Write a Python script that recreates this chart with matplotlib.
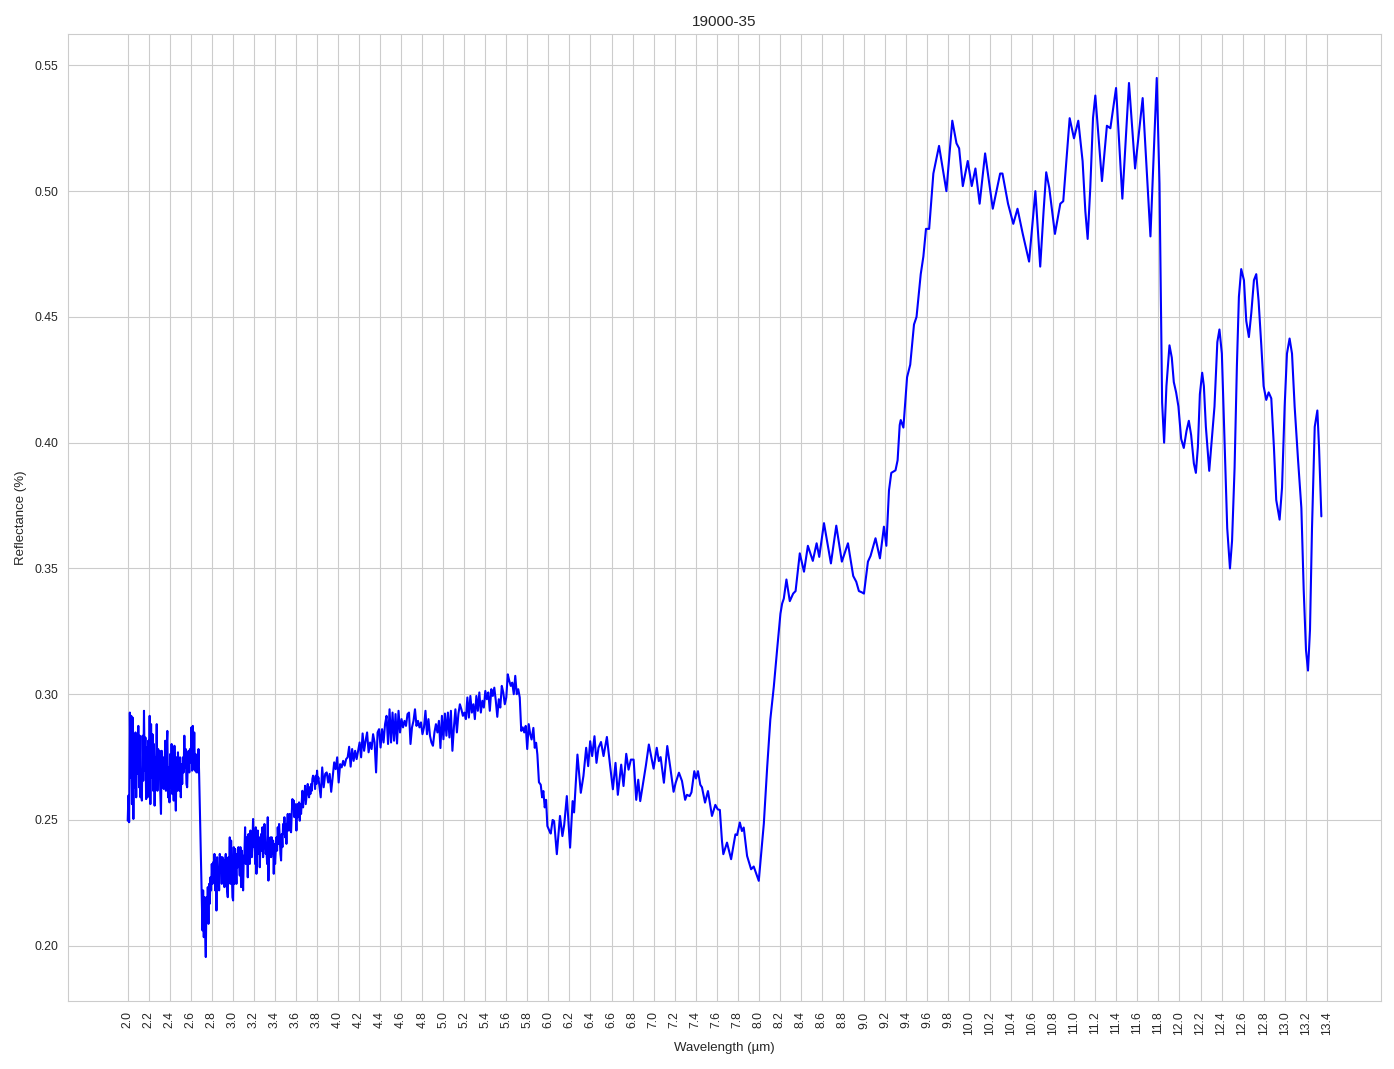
import numpy as np
import matplotlib
matplotlib.use("Agg")
import matplotlib.pyplot as plt
import seaborn as sns

# noisy band, 2.00 - 2.67 um (evenly sampled)
band1_range = (2.0, 2.673)
band1_refl = [0.2497, 0.2597, 0.2491, 0.2927, 0.2669, 0.2914, 0.2563, 0.2907, 0.2504, 0.2841,
              0.2630, 0.2848, 0.2590, 0.2841, 0.2683, 0.2874, 0.2630, 0.2835, 0.2590, 0.2696,
              0.2577, 0.2835, 0.2656, 0.2934, 0.2696, 0.2828, 0.2583, 0.2788, 0.2590, 0.2815,
              0.2630, 0.2914, 0.2563, 0.2881, 0.2669, 0.2841, 0.2616, 0.2802, 0.2557, 0.2749,
              0.2709, 0.2881, 0.2616, 0.2782, 0.2669, 0.2775, 0.2610, 0.2524, 0.2775, 0.2630,
              0.2749, 0.2623, 0.2696, 0.2815, 0.2616, 0.2782, 0.2854, 0.2590, 0.2709, 0.2570,
              0.2762, 0.2630, 0.2802, 0.2603, 0.2702, 0.2577, 0.2795, 0.2643, 0.2537, 0.2749,
              0.2616, 0.2769, 0.2669, 0.2616, 0.2749, 0.2590, 0.2722, 0.2643, 0.2749, 0.2689,
              0.2835, 0.2709, 0.2782, 0.2643, 0.2630, 0.2742, 0.2775, 0.2689, 0.2782, 0.2729,
              0.2868, 0.2696, 0.2874, 0.2702, 0.2848, 0.2696, 0.2762, 0.2689, 0.2696, 0.2689,
              0.2782]

# drop and noisy recovery, 2.68 - 3.81 um
band2_range = (2.679, 3.813)
band2_refl = [0.2683, 0.2557, 0.2418, 0.2299, 0.2167, 0.2061, 0.2220, 0.2034, 0.2193, 0.2061,
              0.1955, 0.2193, 0.2114, 0.2233, 0.2087, 0.2246, 0.2167, 0.2272, 0.2220, 0.2325,
              0.2246, 0.2332, 0.2272, 0.2365, 0.2220, 0.2339, 0.2140, 0.2352, 0.2272, 0.2312,
              0.2220, 0.2365, 0.2299, 0.2352, 0.2246, 0.2352, 0.2272, 0.2339, 0.2233, 0.2332,
              0.2365, 0.2272, 0.2220, 0.2193, 0.2352, 0.2299, 0.2431, 0.2246, 0.2418, 0.2312,
              0.2193, 0.2180, 0.2392, 0.2246, 0.2385, 0.2325, 0.2246, 0.2365, 0.2312, 0.2392,
              0.2339, 0.2279, 0.2392, 0.2233, 0.2378, 0.2339, 0.2220, 0.2352, 0.2365, 0.2471,
              0.2325, 0.2431, 0.2392, 0.2272, 0.2444, 0.2392, 0.2325, 0.2458, 0.2431, 0.2352,
              0.2418, 0.2504, 0.2392, 0.2431, 0.2325, 0.2471, 0.2286, 0.2392, 0.2458, 0.2365,
              0.2431, 0.2312, 0.2392, 0.2444, 0.2378, 0.2471, 0.2352, 0.2405, 0.2484, 0.2431,
              0.2365, 0.2392, 0.2325, 0.2511, 0.2259, 0.2418, 0.2392, 0.2431, 0.2352, 0.2431,
              0.2365, 0.2418, 0.2286, 0.2405, 0.2325, 0.2378, 0.2431, 0.2378, 0.2471, 0.2405,
              0.2484, 0.2431, 0.2365, 0.2339, 0.2444, 0.2392, 0.2484, 0.2444, 0.2511, 0.2431,
              0.2484, 0.2405, 0.2484, 0.2524, 0.2458, 0.2484, 0.2524, 0.2458, 0.2451, 0.2524,
              0.2583, 0.2550, 0.2577, 0.2511, 0.2563, 0.2550, 0.2458, 0.2563, 0.2511, 0.2557,
              0.2570, 0.2497, 0.2563, 0.2524, 0.2570, 0.2616, 0.2550, 0.2603, 0.2583, 0.2636,
              0.2563, 0.2590, 0.2616, 0.2643, 0.2610, 0.2590, 0.2630, 0.2603, 0.2643, 0.2616,
              0.2663, 0.2676, 0.2656, 0.2663, 0.2623, 0.2676, 0.2643, 0.2696, 0.2656, 0.2669]

# noisy plateau, 3.84 - 5.83 um
band3_range = (3.835, 5.827)
band3_refl = [0.2590, 0.2709, 0.2630, 0.2683, 0.2689, 0.2649, 0.2683, 0.2612, 0.2669, 0.2729,
              0.2702, 0.2749, 0.2649, 0.2722, 0.2709, 0.2735, 0.2716, 0.2742, 0.2749, 0.2791,
              0.2712, 0.2782, 0.2735, 0.2775, 0.2742, 0.2775, 0.2808, 0.2749, 0.2844, 0.2775,
              0.2815, 0.2848, 0.2769, 0.2808, 0.2782, 0.2841, 0.2808, 0.2689, 0.2848, 0.2861,
              0.2788, 0.2861, 0.2808, 0.2881, 0.2914, 0.2802, 0.2940, 0.2808, 0.2927, 0.2815,
              0.2921, 0.2804, 0.2934, 0.2848, 0.2901, 0.2868, 0.2894, 0.2874, 0.2921, 0.2927,
              0.2802, 0.2868, 0.2894, 0.2940, 0.2874, 0.2894, 0.2868, 0.2888, 0.2841, 0.2868,
              0.2934, 0.2841, 0.2901, 0.2835, 0.2808, 0.2795, 0.2848, 0.2881, 0.2848, 0.2894,
              0.2786, 0.2914, 0.2821, 0.2923, 0.2835, 0.2927, 0.2828, 0.2934, 0.2775, 0.2868,
              0.2940, 0.2848, 0.2921, 0.2960, 0.2940, 0.2914, 0.2927, 0.2901, 0.2987, 0.2907,
              0.2993, 0.2927, 0.2960, 0.2901, 0.2993, 0.2934, 0.3007, 0.2927, 0.2974, 0.2947,
              0.3013, 0.2980, 0.3007, 0.2934, 0.3020, 0.2993, 0.3026, 0.2974, 0.2910, 0.2980,
              0.2947, 0.3033, 0.3007, 0.2960, 0.2987, 0.3079, 0.3053, 0.3033, 0.3046, 0.3000,
              0.3073, 0.3000, 0.3020, 0.2987, 0.2854, 0.2868, 0.2848, 0.2874, 0.2782, 0.2881,
              0.2841]

# smoother part, 5.84 - 13.35 um
wl_smooth = [5.840, 5.857, 5.870, 5.883, 5.895, 5.910, 5.927, 5.940, 5.952, 5.965,
             5.978, 5.990, 6.010, 6.022, 6.040, 6.054, 6.080, 6.110, 6.133, 6.150,
             6.175, 6.206, 6.230, 6.244, 6.276, 6.308, 6.333, 6.359, 6.378, 6.397,
             6.416, 6.438, 6.457, 6.476, 6.500, 6.524, 6.556, 6.587, 6.613, 6.638,
             6.660, 6.692, 6.714, 6.740, 6.762, 6.784, 6.810, 6.835, 6.854, 6.873,
             6.905, 6.927, 6.955, 7.000, 7.030, 7.050, 7.067, 7.098, 7.130, 7.159,
             7.190, 7.210, 7.241, 7.270, 7.300, 7.317, 7.343, 7.360, 7.387, 7.403,
             7.422, 7.444, 7.460, 7.489, 7.517, 7.555, 7.587, 7.610, 7.630, 7.650,
             7.663, 7.698, 7.737, 7.778, 7.794, 7.820, 7.840, 7.857, 7.889, 7.927,
             7.952, 8.000, 8.048, 8.080, 8.110, 8.143, 8.175, 8.206, 8.222, 8.238,
             8.263, 8.295, 8.327, 8.350, 8.390, 8.430, 8.467, 8.514, 8.550, 8.575,
             8.620, 8.686, 8.737, 8.790, 8.848, 8.898, 8.927, 8.952, 8.980, 9.000,
             9.038, 9.063, 9.110, 9.152, 9.190, 9.213, 9.238, 9.260, 9.300, 9.320,
             9.340, 9.350, 9.375, 9.410, 9.440, 9.476, 9.500, 9.540, 9.565, 9.590,
             9.620, 9.660, 9.714, 9.784, 9.840, 9.880, 9.905, 9.940, 9.987, 10.025,
             10.060, 10.100, 10.152, 10.225, 10.295, 10.317, 10.370, 10.420, 10.460, 10.510,
             10.570, 10.630, 10.676, 10.708, 10.733, 10.762, 10.797, 10.816, 10.867, 10.895,
             10.956, 10.997, 11.038, 11.079, 11.105, 11.127, 11.152, 11.178, 11.200, 11.263,
             11.310, 11.343, 11.397, 11.457, 11.520, 11.578, 11.650, 11.724, 11.784, 11.810,
             11.826, 11.835, 11.854, 11.876, 11.905, 11.927, 11.946, 11.968, 11.990, 12.016,
             12.041, 12.067, 12.089, 12.111, 12.137, 12.156, 12.175, 12.194, 12.216, 12.232,
             12.251, 12.283, 12.333, 12.360, 12.380, 12.403, 12.430, 12.454, 12.480, 12.500,
             12.524, 12.546, 12.565, 12.587, 12.613, 12.635, 12.660, 12.683, 12.708, 12.730,
             12.752, 12.778, 12.800, 12.825, 12.848, 12.873, 12.898, 12.920, 12.952, 12.975,
             13.000, 13.022, 13.047, 13.070, 13.095, 13.127, 13.159, 13.181, 13.203, 13.222,
             13.241, 13.260, 13.286, 13.311, 13.327, 13.349]
refl_smooth = [0.2820, 0.2866, 0.2787, 0.2807, 0.2760, 0.2650, 0.2640, 0.2590, 0.2615, 0.2550,
               0.2580, 0.2476, 0.2456, 0.2446, 0.2500, 0.2496, 0.2364, 0.2516, 0.2436, 0.2480,
               0.2595, 0.2390, 0.2575, 0.2530, 0.2760, 0.2608, 0.2675, 0.2787, 0.2714, 0.2813,
               0.2754, 0.2833, 0.2727, 0.2787, 0.2810, 0.2754, 0.2830, 0.2714, 0.2622, 0.2727,
               0.2600, 0.2720, 0.2635, 0.2763, 0.2700, 0.2740, 0.2740, 0.2580, 0.2660, 0.2575,
               0.2660, 0.2717, 0.2800, 0.2704, 0.2787, 0.2734, 0.2750, 0.2648, 0.2794, 0.2708,
               0.2612, 0.2648, 0.2688, 0.2655, 0.2580, 0.2600, 0.2595, 0.2610, 0.2694, 0.2665,
               0.2694, 0.2640, 0.2630, 0.2569, 0.2615, 0.2516, 0.2560, 0.2542, 0.2540, 0.2417,
               0.2364, 0.2410, 0.2344, 0.2443, 0.2440, 0.2490, 0.2456, 0.2470, 0.2357, 0.2304,
               0.2315, 0.2258, 0.2485, 0.2710, 0.2900, 0.3030, 0.3180, 0.3320, 0.3360, 0.3380,
               0.3456, 0.3370, 0.3400, 0.3410, 0.3560, 0.3487, 0.3590, 0.3530, 0.3600, 0.3546,
               0.3680, 0.3520, 0.3670, 0.3527, 0.3600, 0.3470, 0.3447, 0.3410, 0.3405, 0.3400,
               0.3527, 0.3550, 0.3620, 0.3540, 0.3666, 0.3590, 0.3810, 0.3880, 0.3890, 0.3930,
               0.4070, 0.4090, 0.4060, 0.4260, 0.4310, 0.4470, 0.4500, 0.4670, 0.4740, 0.4850,
               0.4850, 0.5070, 0.5180, 0.5000, 0.5280, 0.5190, 0.5170, 0.5020, 0.5120, 0.5020,
               0.5090, 0.4950, 0.5150, 0.4930, 0.5070, 0.5070, 0.4950, 0.4870, 0.4930, 0.4830,
               0.4720, 0.5000, 0.4700, 0.4920, 0.5075, 0.5013, 0.4894, 0.4830, 0.4950, 0.4960,
               0.5290, 0.5210, 0.5280, 0.5119, 0.4920, 0.4810, 0.5013, 0.5291, 0.5380, 0.5040,
               0.5260, 0.5250, 0.5410, 0.4970, 0.5430, 0.5090, 0.5370, 0.4820, 0.5450, 0.5030,
               0.4470, 0.4160, 0.4000, 0.4225, 0.4387, 0.4338, 0.4241, 0.4200, 0.4144, 0.4015,
               0.3979, 0.4047, 0.4087, 0.4030, 0.3917, 0.3880, 0.3982, 0.4193, 0.4278, 0.4225,
               0.4063, 0.3888, 0.4144, 0.4400, 0.4450, 0.4354, 0.3980, 0.3660, 0.3500, 0.3610,
               0.3900, 0.4306, 0.4580, 0.4690, 0.4646, 0.4484, 0.4420, 0.4516, 0.4646, 0.4670,
               0.4565, 0.4387, 0.4225, 0.4170, 0.4200, 0.4176, 0.3982, 0.3772, 0.3694, 0.3820,
               0.4144, 0.4354, 0.4414, 0.4354, 0.4144, 0.3934, 0.3740, 0.3416, 0.3175, 0.3094,
               0.3256, 0.3659, 0.4063, 0.4128, 0.3982, 0.3707]

wavelength = np.concatenate([
    np.linspace(*band1_range, len(band1_refl)),
    np.linspace(*band2_range, len(band2_refl)),
    np.linspace(*band3_range, len(band3_refl)),
    np.array(wl_smooth),
])
reflectance = np.concatenate([band1_refl, band2_refl, band3_refl, refl_smooth])

sns.set_style("whitegrid")
plt.rcParams['font.family'] = ['Liberation Sans', 'DejaVu Sans']

fig, ax = plt.subplots(figsize=(13.94, 10.69), dpi=100)
fig.subplots_adjust(left=0.0488, right=0.9907, top=0.9682, bottom=0.0636)

ax.plot(wavelength, reflectance, color='blue', linewidth=1.5)

ticks = np.arange(2.0, 13.41, 0.2)
ax.set_xticks(ticks)
ax.set_xticklabels([f"{t:.1f}" for t in ticks], rotation=90, fontsize=8.7)
ax.tick_params(axis='y', labelsize=8.7)
ax.tick_params(axis='x', pad=4)
ax.set_title("19000-35", fontsize=11)
ax.set_xlabel("Wavelength (µm)", fontsize=9.5, labelpad=5)
ax.set_ylabel("Reflectance (%)", fontsize=9.5, labelpad=5)

fig.savefig("out.png", dpi=100)
